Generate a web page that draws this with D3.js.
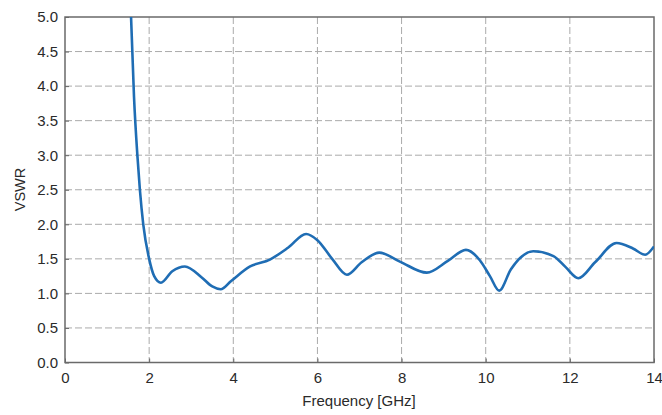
<!DOCTYPE html>
<html>
<head>
<meta charset="utf-8">
<script src="https://cdn.jsdelivr.net/npm/d3@7"></script>
<style>
  body { margin: 0; background: #fff; }
  text { font-family: "Liberation Sans", Arial, sans-serif; fill: #2a2a2a; }
</style>
</head>
<body>
<script>
// values
var freq = [1.57, 1.64, 1.72, 1.78, 1.86, 2.0, 2.12, 2.28, 2.55, 2.85, 3.25, 3.5, 3.7, 3.95, 4.4, 4.87, 5.3, 5.73, 6.0, 6.35, 6.7, 7.05, 7.47, 7.96, 8.6, 9.1, 9.53, 9.86, 10.1, 10.32, 10.6, 11.13, 11.61, 11.9, 12.2, 12.6, 13.11, 13.5, 13.79, 14.0];
var vswr = [5.0, 3.85, 3.0, 2.5, 2.0, 1.5, 1.25, 1.155, 1.32, 1.39, 1.23, 1.10, 1.06, 1.18, 1.39, 1.49, 1.66, 1.86, 1.77, 1.5, 1.27, 1.45, 1.59, 1.46, 1.30, 1.47, 1.63, 1.48, 1.25, 1.04, 1.35, 1.61, 1.54, 1.38, 1.22, 1.45, 1.73, 1.65, 1.56, 1.68];
var xTicks = [0, 2, 4, 6, 8, 10, 12, 14];
var yTicks = [0, 0.5, 1.0, 1.5, 2.0, 2.5, 3.0, 3.5, 4.0, 4.5, 5.0];

var width = 662, height = 415;
var margin = { left: 65, top: 17, right: 8, bottom: 52.5 };
var w = width - margin.left - margin.right;
var h = height - margin.top - margin.bottom;

var svg = d3.select('body').append('svg')
    .attr('width', width)
    .attr('height', height);

var g = svg.append('g')
    .attr('transform', 'translate(' + margin.left + ',' + margin.top + ')');

var x = d3.scaleLinear().domain([0, 14]).range([0, w]);
var y = d3.scaleLinear().domain([0, 5]).range([h, 0]);

// grid
g.selectAll('.vgrid')
    .data(xTicks.slice(1, -1))
    .enter().append('line')
    .attr('x1', function (d) { return x(d); })
    .attr('x2', function (d) { return x(d); })
    .attr('y1', 0).attr('y2', h)
    .attr('stroke', '#aaa').attr('stroke-dasharray', '7,3');

g.selectAll('.hgrid')
    .data(yTicks.slice(1, -1))
    .enter().append('line')
    .attr('y1', function (d) { return y(d); })
    .attr('y2', function (d) { return y(d); })
    .attr('x1', 0).attr('x2', w)
    .attr('stroke', '#aaa').attr('stroke-dasharray', '7,3');

// axes, ticks pointing inward
var axisB = d3.axisBottom(x).tickValues(xTicks).tickSizeInner(-4).tickSizeOuter(0).tickPadding(10)
    .tickFormat(d3.format('d'));
var axisL = d3.axisLeft(y).tickValues(yTicks).tickSizeInner(-4).tickSizeOuter(0).tickPadding(7)
    .tickFormat(d3.format('.1f'));

var gb = g.append('g').attr('transform', 'translate(0,' + h + ')').call(axisB);
var gl = g.append('g').call(axisL);
[gb, gl].forEach(function (a) {
    a.select('.domain').remove();
    a.selectAll('line').attr('stroke', '#666');
    a.selectAll('text').style('font-size', '15px').attr('fill', '#2a2a2a');
});

// frame
g.append('rect')
    .attr('width', w).attr('height', h)
    .attr('fill', 'none').attr('stroke', '#6a6a6a').attr('stroke-width', 1.5);

// curve
g.append('clipPath').attr('id', 'clip')
    .append('rect').attr('width', w).attr('height', h);

var line = d3.line()
    .x(function (d) { return x(d[0]); })
    .y(function (d) { return y(d[1]); })
    .curve(d3.curveMonotoneX);

g.append('path')
    .datum(d3.zip(freq, vswr))
    .attr('clip-path', 'url(#clip)')
    .attr('fill', 'none')
    .attr('stroke', '#1f6db4')
    .attr('stroke-width', 2.6)
    .attr('d', line);

// labels
svg.append('text')
    .text('Frequency [GHz]')
    .attr('x', 359)
    .attr('y', 406)
    .attr('text-anchor', 'middle')
    .style('font-size', '15px');

svg.append('text')
    .text('VSWR')
    .attr('transform', 'translate(25,189.5) rotate(-90)')
    .attr('text-anchor', 'middle')
    .style('font-size', '14.5px');
</script>
</body>
</html>
